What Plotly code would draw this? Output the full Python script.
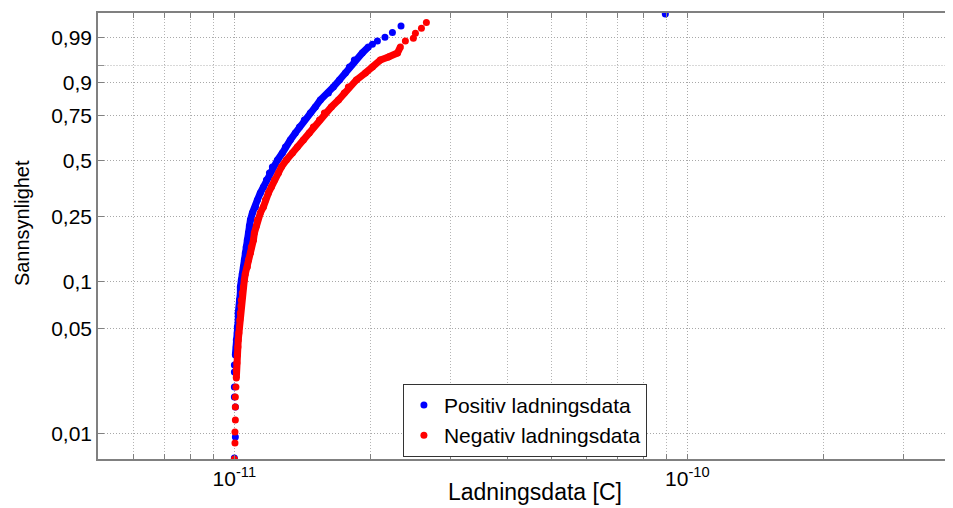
import numpy as np
import plotly.graph_objects as go

# Positiv ladningsdata: charge [pC] and plotted probability
pos_charge_pc = [10.00, 10.05, 10.05, 10.00, 10.00, 10.00, 10.00, 10.05, 10.10, 10.10,
                 10.15, 10.15, 10.20, 10.20, 10.26, 10.26, 10.31, 10.31, 10.36, 10.41,
                 10.47, 10.52, 10.57, 10.62, 10.68, 10.74, 10.79, 10.85, 10.96, 11.13,
                 11.24, 11.41, 11.59, 11.77, 11.95, 12.13, 12.45, 12.76, 12.96, 13.29,
                 13.63, 13.92, 14.27, 14.71, 15.09, 15.48, 16.13, 16.54, 17.06, 17.58,
                 17.94, 18.40, 19.16, 19.76, 20.17, 20.69, 21.50, 22.33, 23.33, 89.4]
pos_prob = [0.00683, 0.00945, 0.0150, 0.0175, 0.0204, 0.0257, 0.0286, 0.0333, 0.0376, 0.0418,
            0.0465, 0.0509, 0.0565, 0.0628, 0.0697, 0.0763, 0.0847, 0.0925, 0.1026, 0.1119,
            0.1240, 0.1371, 0.1517, 0.1652, 0.1822, 0.2010, 0.2211, 0.2398, 0.2634, 0.2851,
            0.3119, 0.3409, 0.3672, 0.3993, 0.4336, 0.4641, 0.5009, 0.5392, 0.5728, 0.6123,
            0.6523, 0.6864, 0.7252, 0.7632, 0.7942, 0.8281, 0.8597, 0.8841, 0.9094, 0.9313,
            0.9471, 0.9621, 0.9740, 0.9818, 0.9846, 0.9877, 0.9905, 0.9933, 0.9961, 0.99874]

# Negativ ladningsdata
neg_charge_pc = [10.00, 10.03, 10.03, 10.05, 10.05, 10.05, 10.08, 10.10, 10.10, 10.13,
                 10.15, 10.18, 10.20, 10.23, 10.26, 10.28, 10.31, 10.34, 10.36, 10.41,
                 10.47, 10.52, 10.57, 10.68, 10.74, 10.85, 10.90, 11.02, 11.07, 11.18,
                 11.24, 11.41, 11.59, 11.71, 11.89, 12.07, 12.26, 12.51, 12.70, 13.03,
                 13.43, 13.77, 14.20, 14.63, 14.94, 15.41, 15.80, 16.37, 16.97, 17.48,
                 17.85, 18.59, 19.46, 20.17, 21.00, 21.88, 22.91, 23.25, 23.85, 24.84,
                 25.10, 25.88, 26.54]
neg_prob = [0.00673, 0.00861, 0.01021, 0.01228, 0.0150, 0.0175, 0.0204, 0.0234, 0.0265, 0.0295,
            0.0333, 0.0376, 0.0418, 0.0465, 0.0509, 0.0565, 0.0628, 0.0697, 0.0763, 0.0847,
            0.0925, 0.1026, 0.1119, 0.1240, 0.1371, 0.1517, 0.1652, 0.1822, 0.2010, 0.2211,
            0.2398, 0.2634, 0.2851, 0.3119, 0.3409, 0.3672, 0.3993, 0.4336, 0.4641, 0.5009,
            0.5392, 0.5728, 0.6123, 0.6523, 0.6864, 0.7252, 0.7632, 0.7942, 0.8281, 0.8597,
            0.8841, 0.9094, 0.9313, 0.9471, 0.9621, 0.9675, 0.9740, 0.9818, 0.9877, 0.98976,
            0.99294, 0.99525, 0.99710]

# index ranges where the points are so dense they form a solid band
pos_dense = (7, 54)
neg_dense = (7, 58)

prob_ticks = [0.01, 0.05, 0.1, 0.25, 0.5, 0.75, 0.9, 0.99]
prob_labels = ["0,01", "0,05", "0,1", "0,25", "0,5", "0,75", "0,9", "0,99"]
prob_extra = [0.95]  # unlabeled tick
x_major = [1e-11, 1e-10]
x_major_labels = ["10<sup>-11</sup>", "10<sup>-10</sup>"]
x_minor = [6e-12, 7e-12, 8e-12, 9e-12, 2e-11, 3e-11, 4e-11, 5e-11,
           6e-11, 7e-11, 8e-11, 9e-11, 2e-10, 3e-10]


def wbl(p):
    # weibull probability scale
    p = np.asarray(p, dtype=float)
    return np.log(-np.log(1 - p))


FONT = "Liberation Sans, Arial, sans-serif"

fig = go.Figure()
series = [
    ("Positiv ladningsdata", pos_charge_pc, pos_prob, pos_dense, "#0000ff"),
    ("Negativ ladningsdata", neg_charge_pc, neg_prob, neg_dense, "#ff0000"),
]
for name, q, p, (a, b), col in series:
    x = np.array(q) * 1e-12
    y = wbl(p)
    fig.add_trace(go.Scatter(x=x[a:b], y=y[a:b], mode="lines",
                             line=dict(color=col, width=7), showlegend=False,
                             hoverinfo="skip"))
    fig.add_trace(go.Scatter(x=x, y=y, mode="markers",
                             marker=dict(color=col, size=7), name=name))

fig.update_xaxes(
    type="log", range=[np.log10(5e-12), np.log10(5e-12) + 847 / 453],
    tickvals=x_major, ticktext=x_major_labels, ticks="inside", ticklen=5,
    tickcolor="#808080", showline=True, linecolor="#808080", linewidth=1.5,
    mirror="ticks", showgrid=True, gridcolor="#a8a8a8", griddash="1px,2px",
    zeroline=False, automargin=False,
    tickfont=dict(family=FONT, size=21, color="#000"),
    minor=dict(tickvals=x_minor, ticks="inside", ticklen=5, tickcolor="#808080",
               showgrid=True, gridcolor="#b4b4b4", griddash="1px,2px"))
fig.update_yaxes(
    range=[-4.998, 1.914], tickvals=wbl(prob_ticks), ticktext=prob_labels,
    ticks="inside", ticklen=6, tickcolor="#808080", showline=True,
    linecolor="#808080", linewidth=1.5, showgrid=True, gridcolor="#a8a8a8",
    griddash="1px,2px", zeroline=False, automargin=False,
    tickfont=dict(family=FONT, size=21, color="#000"),
    minor=dict(tickvals=wbl(prob_extra), ticks="inside", ticklen=6,
               tickcolor="#909090", showgrid=True, gridcolor="#d8d8d8",
               griddash="2px,1px"))

# page body has an 8px margin; shift the figure to match
fig.update_layout(
    width=937, height=500, margin=dict(l=90, r=0, t=5, b=49),
    plot_bgcolor="white", paper_bgcolor="white",
    font=dict(family=FONT, color="#000"),
    legend=dict(x=0.360, y=0.005, xanchor="left", yanchor="bottom",
                bgcolor="white", bordercolor="#333", borderwidth=1,
                font=dict(family=FONT, size=21)),
    annotations=[
        dict(text="Ladningsdata [C]", xref="paper", yref="paper", x=0.5165, y=-0.074,
             xanchor="center", yanchor="middle", showarrow=False,
             font=dict(family=FONT, size=23)),
        dict(text="Sannsynlighet", xref="paper", yref="paper", x=-0.0897, y=0.529,
             xanchor="center", yanchor="middle", textangle=-90, showarrow=False,
             font=dict(family=FONT, size=20)),
    ])

fig.write_html("out.html")
